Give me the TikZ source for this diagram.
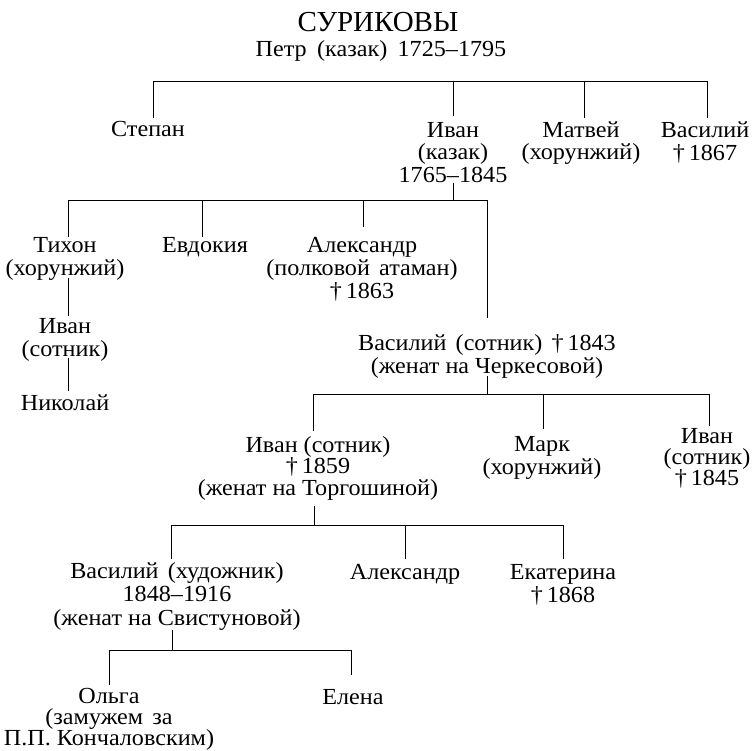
\documentclass[tikz,border=0pt]{standalone}
\usepackage{fontspec}
\setmainfont{Liberation Serif}[FakeStretch=1.05]
\newfontfamily\titlefont{Liberation Serif}
\newcommand\fs{\rule{0pt}{17pt}}
\tikzset{
  person/.style={anchor=north, inner sep=0pt, align=center, font=\fontsize{23}{22.5}\selectfont},
  pitch/.style={font=\fontsize{23}{#1}\selectfont},
  link/.style={line width=0.9pt},
}
\begin{document}
\begin{tikzpicture}[x=1pt,y=-1pt]
\useasboundingbox (0,0) rectangle (753,751);
\node[anchor=base, inner sep=0pt, font=\titlefont\fontsize{29}{30}\selectfont] (title) at (378,32) {СУРИКОВЫ};
\node[anchor=base, inner sep=0pt, font=\fontsize{23}{24}\selectfont] (petr) at (381,57) {Петр\hspace{0.45em}(казак)\hspace{0.45em}1725–1795};

% generation 1
\node[person] (stepan)   at (148,119) {\fs Степан};
\node[person] (ivan1)    at (453,120) {\fs Иван\\(казак)\\1765–1845};
\node[person] (matvey)   at (581,120) {\fs Матвей\\(хорунжий)};
\node[person, pitch=23] (vasiliy1) at (705,120) {\fs Василий\\†\,1867};

% generation 2
\node[person, pitch=23] (tikhon)     at (65,235)  {\fs Тихон\\(хорунжий)};
\node[person] (evdokiya)   at (205,235) {\fs Евдокия};
\node[person, pitch=23] (aleksandr1) at (362,235) {\fs Александр\\(полковой\hspace{0.4em}атаман)\\†\,1863};
\node[person, pitch=23] (vasiliy2)   at (487,333) {\fs Василий\hspace{0.4em}(сотник)\hspace{0.4em}†\,1843\\(женат на Черкесовой)};

% Tikhon line
\node[person, pitch=23] (ivan2)   at (65,316) {\fs Иван\\(сотник)};
\node[person] (nikolay) at (65,393) {\fs Николай};

% generation 3
\node[person, pitch=21.5] (ivan3) at (318,435) {\fs Иван (сотник)\\†\,1859\\(женат на Торгошиной)};
\node[person, pitch=23] (mark)  at (542,434) {\fs Марк\\(хорунжий)};
\node[person, pitch=21] (ivan4) at (707,426) {\fs Иван\\(сотник)\\†\,1845};

% generation 4
\node[person, pitch=23.5] (vasiliy3)   at (177,561) {\fs Василий\hspace{0.4em}(художник)\\1848–1916\\(женат на Свистуновой)};
\node[person] (aleksandr2) at (405,562) {\fs Александр};
\node[person, pitch=23] (ekaterina)  at (563,562) {\fs Екатерина\\†\,1868};

% generation 5
\node[person, pitch=21] (olga)  at (109,686) {\fs Ольга\\(замужем\hspace{0.4em}за\\П.П. Кончаловским)};
\node[person] (elena) at (353,687) {\fs Елена};

% bar levels
\coordinate (b1) at (0,81);
\coordinate (b2) at (0,200);
\coordinate (b3) at (0,394);
\coordinate (b4) at (0,525);
\coordinate (b5) at (0,650);

% children of Petr
\draw[link] ([xshift=5pt,yshift=1pt]stepan.north) -- ([xshift=5pt]stepan.north |- b1)
  -- ([xshift=2pt]vasiliy1.north |- b1) -- ([xshift=2pt,yshift=2pt]vasiliy1.north);
\draw[link] (ivan1.north |- b1) -- ([yshift=4pt]ivan1.north);
\draw[link] ([xshift=3pt]matvey.north |- b1) -- ([xshift=3pt,yshift=2pt]matvey.north);

% children of Ivan (kazak)
\draw[link] (ivan1.south) -- (ivan1.south |- b2);
\draw[link] ([xshift=3pt,yshift=-2pt]tikhon.north) -- ([xshift=3pt]tikhon.north |- b2)
  -- (vasiliy2.north |- b2) -- ([yshift=15pt]vasiliy2.north);
\draw[link] ([xshift=-3pt]evdokiya.north |- b2) -- ([xshift=-3pt,yshift=-2pt]evdokiya.north);
\draw[link] ([xshift=1pt]aleksandr1.north |- b2) -- ([xshift=1pt,yshift=8pt]aleksandr1.north);

% Tikhon -> Ivan -> Nikolay
\draw[link] ([xshift=3pt,yshift=2pt]tikhon.south) -- ([xshift=3pt]ivan2.north);
\draw[link] ([xshift=3pt,yshift=3pt]ivan2.south) -- ([xshift=3pt,yshift=2pt]nikolay.north);

% children of Vasiliy (sotnik)
\draw[link] ([yshift=2pt]vasiliy2.south) -- (vasiliy2.south |- b3);
\draw[link] ([xshift=-5pt,yshift=4pt]ivan3.north) -- ([xshift=-5pt]ivan3.north |- b3)
  -- ([xshift=2pt]ivan4.north |- b3) -- ([xshift=2pt]ivan4.north);
\draw[link] ([xshift=1pt]mark.north |- b3) -- ([xshift=1pt,yshift=5pt]mark.north);

% children of Ivan (sotnik) +1859
\draw[link] ([xshift=-4pt,yshift=-6pt]ivan3.south) -- ([xshift=-4pt]ivan3.south |- b4);
\draw[link] ([xshift=-6pt,yshift=2pt]vasiliy3.north) -- ([xshift=-6pt]vasiliy3.north |- b4)
  -- (ekaterina.north |- b4) -- ([yshift=3pt]ekaterina.north);
\draw[link] (aleksandr2.north |- b4) -- ([yshift=3pt]aleksandr2.north);

% children of Vasiliy (khudozhnik)
\draw[link] ([xshift=-5pt]vasiliy3.south) -- ([xshift=-5pt]vasiliy3.south |- b5);
\draw[link] ([yshift=1pt]olga.north) -- (olga.north |- b5)
  -- ([xshift=-2pt]elena.north |- b5) -- ([xshift=-2pt,yshift=12pt]elena.north);
\end{tikzpicture}
\end{document}
